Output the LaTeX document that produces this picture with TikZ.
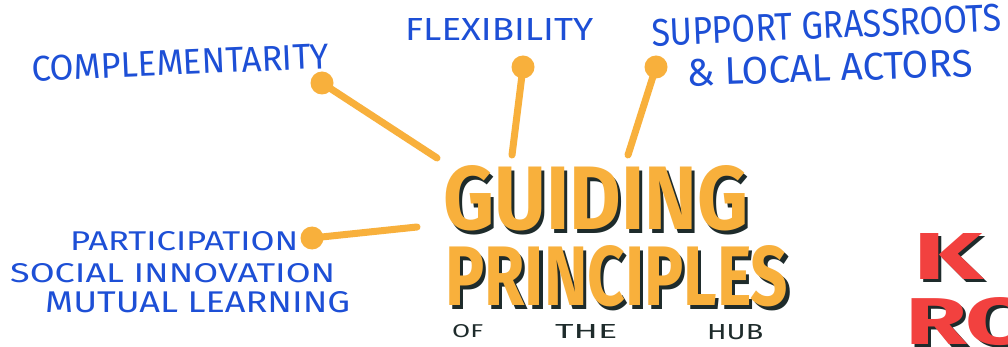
\documentclass[tikz,border=0pt]{standalone}
\usepackage{fontspec}
\setmainfont{Fira Sans}
\usepackage{graphicx}
\definecolor{ink}{HTML}{1D4FD6}
\definecolor{marker}{HTML}{F8B03C}
\definecolor{shade}{HTML}{1E2B2B}
\definecolor{redm}{HTML}{F2413F}
\newcommand\fitbox[3]{\resizebox{#1pt}{#2pt}{#3}}
% text with a dark drop shadow, in one box: width, height, fill colour, text
\newcommand\shadowed[4]{%
  \makebox[0pt][l]{\hspace{3.5pt}\raisebox{-3.5pt}{\color{shade}\fitbox{#1}{#2}{#4}}}%
  {\color{#3}\fitbox{#1}{#2}{#4}}}
\begin{document}
\begin{tikzpicture}[x=1pt,y=-1pt,
  lbl/.style={inner sep=0pt, anchor=south west, text=ink, font=\fontsize{20}{20}\selectfont},
  dot/.style={circle, fill=marker, inner sep=0pt, minimum size=23pt},
  spoke/.style={draw=marker, line width=7pt, line cap=round},
  bigtx/.style={inner sep=0pt, anchor=south west, font=\bfseries\fontsize{60}{60}\selectfont},
  small/.style={inner sep=0pt, anchor=south west, text=shade, font=\fontsize{14}{14}\selectfont},
]
\useasboundingbox (0,0) rectangle (1008,347);
\clip (0,0) rectangle (1008,347);
\fill[white] (0,0) rectangle (1008,347);

% labels
\node[lbl, rotate=2.5] (comp) at (32,82) {\fitbox{298}{25}{COMPLEMENTARITY}};
\node[lbl] (flex) at (405,41) {\fitbox{188}{22}{FLEXIBILITY}};
\node[lbl, rotate=2.5] (supp) at (652,47) {\fitbox{350}{27}{SUPPORT GRASSROOTS}};
\node[lbl, rotate=2] (local) at (687,87) {\fitbox{286}{27}{\& LOCAL ACTORS}};
\node[lbl] (part) at (70,251) {\fitbox{228}{19}{PARTICIPATION}};
\node[lbl] (soc) at (10,283) {\fitbox{325}{19}{SOCIAL INNOVATION}};
\node[lbl] (mut) at (45,313) {\fitbox{305}{21}{MUTUAL LEARNING}};

% spokes
\node[dot] (d1) at (322,83) {};
\node[dot] (d2) at (523,67) {};
\node[dot] (d3) at (656,67) {};
\node[dot] (d4) at (312,238) {};
\coordinate (e1) at (437,158);
\coordinate (e2) at (512,155);
\coordinate (e3) at (628,155);
\coordinate (e4) at (417,227);
\draw[spoke] (d1.center) -- (e1);
\draw[spoke] (d2.center) -- (e2);
\draw[spoke] (d3.center) -- (e3);
\draw[spoke] (d4.center) -- (e4);

% title
\node[bigtx] (guiding) at (443,235) {\shadowed{305}{64}{marker}{GUIDING}};
\node[bigtx] (principles) at (445,311) {\shadowed{343}{60}{marker}{PRINCIPLES}};
\node[small] (of) at (452,338) {\fitbox{31}{13}{OF}};
\node[small] (the) at (555,339) {\fitbox{62}{14}{THE}};
\node[small] (hub) at (707,340) {\fitbox{56}{15}{HUB}};

% red text at right edge
\node[bigtx] (ke) at (913,283) {\shadowed{150}{46}{redm}{K\hspace{0.2em}E}};
\node[bigtx] (ro) at (905,349) {\shadowed{130}{47}{redm}{RO}};
\end{tikzpicture}
\end{document}
